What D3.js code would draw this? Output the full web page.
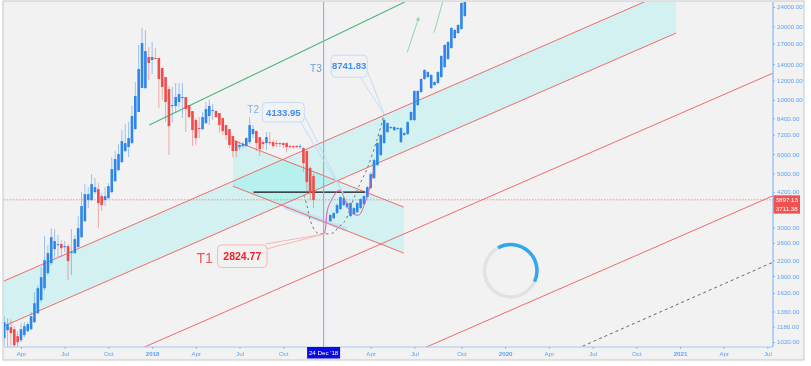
<!DOCTYPE html>
<html>
<head>
<meta charset="utf-8">
<title>BTC weekly</title>
<script src="https://cdn.jsdelivr.net/npm/d3@7"></script>
<style>
  html, body { margin: 0; padding: 0; background: #fff; }
  svg { display: block; font-family: "Liberation Sans", Arial, sans-serif; filter: blur(0.3px); }
</style>
</head>
<body>
<svg id="drawing_region"></svg>
<script>
// weekly candles, first one in the week of 27 Feb 2017. nulls = weeks hidden in the picture
const firstWeek = "2017-02-27";
const opens = [1057,1140,1173,1151,1078,1037,1088,1130,1151,1230,1338,1513,1694,1952,2146,2448,2543,2567,2494,2519,2358,2358,2494,2741,3188,3887,3887,4191,4311,4036,3887,3960,4191,4649,5157,5561,6170,6407,6653,7592,8914,11178,11178,14975,14557,14834,14834,13499,12400,11073,9433,9433,9795,10172,10268,9522,8998,8265,7664,7592,8034,8584,8998,8998,8830,8422,7884,7592,7108,6780,6407,6468,6468,6716,7243,7451,7040,6716,6653,6716,6716,6653,6591,6653,6653,6468,6468,6468,6407,6347,6170,5255,4873,null,null,null,null,3188,3279,3439,3571,3708,3638,3343,3406,3471,3604,3743,3998,4352,4782,5406,5941,6653,7381,7664,7521,7592,6716,7175,7243,8265,8265,9522,10764,12168,12400,11178,11499,11718,12400,13627,14695,16302,17914,18780,19502,22047];
const highs = [1301,1277,1265,1184,1130,1218,1230,1230,1352,1632,1743,2066,2768,2543,2984,2956,2794,2665,2640,2567,2956,2794,3343,4191,4519,4393,4966,4782,4562,4152,4393,4562,5830,6170,6591,7521,7959,8110,9433,11829,16770,19686,19319,16456,17251,16302,14834,13499,12400,11391,11284,11718,11718,11718,10268,9522,8998,8422,8502,8914,9795,9982,9612,9084,8830,8422,7884,7592,7108,6844,6716,6716,7040,8502,7884,7521,7040,6844,7381,7381,6844,6844,6716,6716,6716,6529,6529,6529,6591,6407,6228,5355,4966,null,null,null,null,3406,3471,3778,4036,3998,3850,3814,3638,3814,3960,4074,4435,5061,5775,6716,7243,8422,8110,7810,7810,7737,7737,7381,8187,8998,10969,10969,12284,13372,13122,12756,11941,13122,15260,16929,17415,19873,19502,20445,25159,29000];
const lows = [989,971,980,971,971,1018,1067,1119,1140,1218,1326,1484,1663,1916,2105,2249,2270,2270,2380,1828,1916,2336,2494,2716,3158,3604,3850,4113,2984,3504,3673,3923,4152,4605,5109,5509,6112,5830,6591,7521,8914,11178,11073,12054,12756,14695,9256,9982,8110,5941,8110,8830,9256,8422,7381,8422,6468,6529,6974,7521,7959,7884,8265,8422,7311,7175,6844,6347,5830,5830,6228,6347,6407,6591,6974,6170,5885,6287,6228,6529,6347,6407,6407,6347,6112,6347,6287,6347,6287,5061,4152,3887,3604,null,null,null,null,3158,3248,3406,3537,3673,3604,3310,3374,3439,3571,3708,3960,4311,4737,5355,5885,6591,7311,7592,7451,7521,6653,7108,7175,8187,8187,9433,10663,12054,12284,11073,11391,11608,12284,13499,14557,16149,17746,18604,19319,21800];
const closes = [1230,1207,1109,989,1018,1151,1184,1207,1301,1470,1694,1880,2207,2358,2741,2640,2567,2471,2519,2186,2380,2690,2984,3673,4113,4113,4519,4393,3778,3708,4036,4435,5206,5721,5998,6780,6653,6974,8584,10366,13372,17089,15847,14151,14975,14695,12168,11284,9795,7810,9522,10268,10563,10268,9170,8502,7521,6974,7592,8502,9170,9433,9084,8502,7884,7451,7175,6529,6170,6170,6529,6591,6974,7884,7592,6653,6287,6591,7040,6653,6468,6591,6653,6529,6407,6407,6407,6407,6468,5509,4605,4152,3887,null,null,null,null,3374,3439,3708,3998,3960,3778,3778,3604,3778,3923,4036,4393,4966,5667,6653,7175,8265,8034,7737,7737,7664,7664,7311,8110,8914,10866,10866,12168,13247,12999,12636,11829,12999,15117,16770,17251,19686,19319,20253,24923,28000];

// price axis and time axis labels
const priceTicks = [24000,20000,17000,14000,12000,10000,8400,7200,6000,5000,4200,3000,2600,2200,1900,1620,1360,1180,1020];
const timeTicks = ["2017-04-03","2017-07-03","2017-10-02","2018-01-01","2018-04-02","2018-07-02","2018-10-01","2019-04-01","2019-07-01","2019-10-07","2020-01-06","2020-04-06","2020-07-06","2020-10-05","2021-01-04","2021-04-05","2021-07-05"];

// drawn trend lines: [date, price] pairs
const channelUpper = [["2017-02-26",1810],["2020-12-27",28711]];
const channelLower = [["2017-02-26",1184],["2020-12-27",18780]];
const fallUpper = [["2018-06-18",6844],["2019-06-09",3638]];
const fallLower = [["2018-06-18",4435],["2019-06-09",2358]];
const parallelA = [["2017-12-15",971],["2021-07-17",12877]];
const parallelB = [["2019-07-25",971],["2021-07-17",4050]];
const dottedLine = [["2020-06-15",980],["2021-07-17",2166]];
const greenLine = [["2017-12-26",7884],["2019-06-11",25159]];
const greenArrow = [["2019-06-16",15650],["2019-07-09",21370]];
const greenShort = [["2019-08-11",18830],["2019-08-29",25230]];
const supportLine = [["2018-07-31",4191],["2019-03-20",4191]];
const blueBand = [["2018-10-04",3650],["2019-02-10",2947]];
const cupCurve = [["2018-11-13",4074],["2018-11-20",3650],["2018-11-26",3218],["2018-12-10",2860],["2018-12-26",2824.77],["2019-01-14",2860],["2019-01-22",2984],["2019-02-08",3218],["2019-02-18",3650],["2019-03-07",4406],["2019-03-25",5255],["2019-04-14",6844],["2019-04-29",8741.83]];
const pinkCurve = [["2018-12-26",2824.77],["2018-12-28",2984],["2019-01-03",3650],["2019-01-26",4271],["2019-02-08",3830],["2019-02-18",3480],["2019-03-07",3374],["2019-03-20",3778],["2019-03-30",4352],["2019-04-07",5157]];

const lastPrice = 3897.13;
const lastPriceLabels = ["3897.13","3711.38"];
const crossDate = "2018-12-24";
const crossLabel = "24 Dec '18";

// callouts: text, point it is tied to, T label
const calloutTexts = ["2824.77","4133.95","8741.83"];
const calloutDates = ["2018-12-26","2019-02-03","2019-04-29"];
const calloutPrices = [2824.77,4133.95,8741.83];
const calloutTags = ["T1","T2","T3"];

const config = {
    width: 811, height: 366,
    frame: {x: 3, y: 1, width: 801, height: 359},
    plot: {left: 4, top: 2, right: 773, bottom: 347}
};
const BLUE = "#2e86ea", RED = "#f04c4c", LINE_RED = "#f06c6c";

const parse = d3.utcParse("%Y-%m-%d");
const toLocal = s => { const d = parse(s); return new Date(d.getUTCFullYear(), d.getUTCMonth(), d.getUTCDate()); };

const svg = d3.select("#drawing_region").attr("width", config.width).attr("height", config.height);
svg.append("rect").attr("x", config.frame.x).attr("y", config.frame.y)
    .attr("width", config.frame.width).attr("height", config.frame.height)
    .attr("fill", "#f2f2f2").attr("stroke", "#cfcfcf").attr("stroke-width", 1.2);

const xscale = d3.scaleTime().domain([toLocal("2017-04-03"), toLocal("2021-01-04")]).range([21, 680]);
const yscale = d3.scaleLog().domain([24000, 1020]).range([7, 342]);

svg.append("clipPath").attr("id", "plot_clip").append("rect")
    .attr("x", config.plot.left).attr("y", config.plot.top)
    .attr("width", config.plot.right - config.plot.left).attr("height", config.plot.bottom - config.plot.top);
const chart = svg.append("g").attr("clip-path", "url(#plot_clip)");

const px = d => [xscale(toLocal(d[0])), yscale(d[1])];
const line = d3.line().x(d => px(d)[0]).y(d => px(d)[1]);
const drawLine = (pts, color, width, dash, curve) => chart.append("path")
    .attr("d", (curve ? line.curve(curve) : line.curve(d3.curveLinear))(pts))
    .attr("fill", "none").attr("stroke", color).attr("stroke-width", width)
    .attr("stroke-dasharray", dash || null);

// cyan channel fills
const channelFill = "rgba(0,240,230,0.13)";
[[channelUpper, channelLower], [fallUpper, fallLower]].forEach(([a, b]) => {
    chart.append("path")
        .attr("d", line.curve(d3.curveLinear)(a.concat(b.slice().reverse())) + "Z")
        .attr("fill", channelFill);
});

drawLine(blueBand, "#bfdff5", 4.5).attr("opacity", 0.8);

// price line behind the trend lines
chart.append("line").attr("x1", config.plot.left).attr("x2", config.plot.right)
    .attr("y1", yscale(lastPrice)).attr("y2", yscale(lastPrice))
    .attr("stroke", "#f07a7a").attr("stroke-width", 0.8).attr("stroke-dasharray", "1.5,1.5");

[channelUpper, channelLower, fallUpper, fallLower, parallelA, parallelB].forEach(l => drawLine(l, LINE_RED, 1));
drawLine(dottedLine, "#666", 1, "3,3");
drawLine(greenLine, "#4cb878", 1.1);
drawLine(greenArrow, "#8fd8a8", 1);
drawLine(greenShort, "#8fd8a8", 1);
drawLine(supportLine, "#111", 1.3);

// small head on the green arrow
const head = px(greenArrow[1]);
chart.append("path").attr("d", d3.symbol(d3.symbolTriangle, 9)())
    .attr("transform", `translate(${head[0]},${head[1]}) rotate(18)`).attr("fill", "#8fd8a8");

// candles
const candles = opens.map((o, i) => ({
    date: d3.timeDay.offset(toLocal(firstWeek), 7 * i),
    open: o, high: highs[i], low: lows[i], close: closes[i]
})).filter(d => d.open !== null);
const candleColor = d => d.close >= d.open ? BLUE : RED;

chart.append("g").selectAll("line").data(candles).join("line")
    .attr("x1", d => xscale(d.date)).attr("x2", d => xscale(d.date))
    .attr("y1", d => yscale(d.high)).attr("y2", d => yscale(d.low))
    .attr("stroke", candleColor).attr("stroke-width", 1).attr("opacity", 0.45);
chart.append("g").selectAll("rect").data(candles).join("rect")
    .attr("x", d => xscale(d.date) - 1.3).attr("width", 2.6)
    .attr("y", d => yscale(Math.max(d.open, d.close)))
    .attr("height", d => Math.max(1, yscale(Math.min(d.open, d.close)) - yscale(Math.max(d.open, d.close))))
    .attr("fill", candleColor);

drawLine(cupCurve, "#777", 1, "2.5,3", d3.curveCatmullRom);
drawLine(pinkCurve, "#e25aa6", 1, null, d3.curveCatmullRom);

// crosshair
const crossX = xscale(toLocal(crossDate));
chart.append("line").attr("x1", crossX).attr("x2", crossX)
    .attr("y1", config.plot.top).attr("y2", config.plot.bottom)
    .attr("stroke", "#a0a0ee").attr("stroke-width", 1.1);

// callouts, box placed as an offset from the point it is tied to
const calloutStyle = [
    {box: [-107, 11, 49.5, 22.5], tail: [[-59, 10], [-58, 15]], stroke: "#f6b8b8", text: "#f5202a", tag: [-128, 29], tagColor: "#ee5a5a", tagSize: 14},
    {box: [-81, -91, 42, 19.5], tail: [[-43, -72], [-39, -78]], stroke: "#c4dcf6", text: "#3e8ff0", tag: [-96, -81], tagColor: "#7db0e6", tagSize: 10},
    {box: [-53, -59, 36, 22], tail: [[-24, -37], [-17, -44]], stroke: "#c4dcf6", text: "#3e8ff0", tag: [-74, -42], tagColor: "#6f9fd6", tagSize: 10}
];
calloutTexts.forEach((t, i) => {
    const s = calloutStyle[i];
    const ax = xscale(toLocal(calloutDates[i])), ay = yscale(calloutPrices[i]);
    const g = svg.append("g").attr("transform", `translate(${ax},${ay})`);
    s.tail.forEach(p => g.append("line").attr("x1", p[0]).attr("y1", p[1]).attr("x2", 0).attr("y2", 0)
        .attr("stroke", s.stroke).attr("stroke-width", 1));
    g.append("rect").attr("x", s.box[0]).attr("y", s.box[1]).attr("width", s.box[2]).attr("height", s.box[3])
        .attr("rx", 4).attr("fill", "#f2f2f2").attr("stroke", s.stroke).attr("stroke-width", 1);
    g.append("text").attr("x", s.box[0] + s.box[2] / 2).attr("y", s.box[1] + s.box[3] / 2 + 3.3)
        .attr("text-anchor", "middle").attr("font-size", i === 0 ? 10.5 : 9.5).attr("font-weight", "bold")
        .attr("fill", s.text).text(t);
    g.append("text").attr("x", s.tag[0]).attr("y", s.tag[1]).attr("font-size", s.tagSize)
        .attr("fill", s.tagColor).text(calloutTags[i]);
});

// ring in the empty area
const ring = svg.append("g").attr("transform", "translate(510.7,270.7)");
const ringArc = d3.arc().innerRadius(24.5).outerRadius(28);
ring.append("path").attr("d", ringArc({startAngle: 0, endAngle: 2 * Math.PI})).attr("fill", "#e0e2e5");
ring.append("path").attr("d", ringArc({startAngle: -0.5, endAngle: 2.0})).attr("fill", "#2fa8f0");

// axes
const xaxis = d3.axisBottom(xscale)
    .tickValues(timeTicks.map(toLocal))
    .tickSizeOuter(0).tickSize(2).tickPadding(3)
    .tickFormat(d => d.getMonth() === 0 ? d3.timeFormat("%Y")(d) : d3.timeFormat("%b")(d));
const yaxis = d3.axisRight(yscale)
    .tickValues(priceTicks).tickSize(2).tickPadding(2)
    .tickFormat(d3.format(".2f"));

const xaxisGroup = svg.append("g").attr("transform", `translate(0,${config.plot.bottom})`).call(xaxis);
const yaxisGroup = svg.append("g").attr("transform", `translate(${config.plot.right},0)`).call(yaxis);
[xaxisGroup, yaxisGroup].forEach(g => {
    g.select(".domain").remove();
    g.selectAll("line").attr("stroke", "#7fb2ef");
    g.selectAll("text").attr("fill", "#5fa3f0").attr("font-size", 6.2).attr("font-family", "Liberation Sans");
});
xaxisGroup.selectAll("text").filter(d => d.getMonth() === 0).attr("font-weight", "bold");
svg.append("line").attr("x1", config.plot.left).attr("x2", config.plot.right)
    .attr("y1", config.plot.bottom).attr("y2", config.plot.bottom).attr("stroke", "#a5c8f2").attr("stroke-width", 1.2);
svg.append("line").attr("x1", config.plot.right).attr("x2", config.plot.right)
    .attr("y1", config.plot.top).attr("y2", config.plot.bottom).attr("stroke", "#8ab8ef").attr("stroke-width", 1.2);

// date tag on the crosshair
svg.append("rect").attr("x", crossX - 16.5).attr("y", config.plot.bottom).attr("width", 33).attr("height", 11.5).attr("fill", "#0a0ae6");
svg.append("text").attr("x", crossX).attr("y", config.plot.bottom + 8).attr("text-anchor", "middle")
    .attr("font-size", 6.2).attr("fill", "#fff").text(crossLabel);

// last price tag
svg.append("rect").attr("x", config.plot.right + 0.5).attr("y", yscale(lastPrice) - 4.5).attr("width", 26.5).attr("height", 18.3).attr("fill", "#f05252");
lastPriceLabels.forEach((t, i) => {
    svg.append("text").attr("x", config.plot.right + 13.8).attr("y", yscale(lastPrice) + 2.2 + i * 9)
        .attr("text-anchor", "middle").attr("font-size", 6.2).attr("fill", "#fff").text(t);
});
</script>
</body>
</html>
